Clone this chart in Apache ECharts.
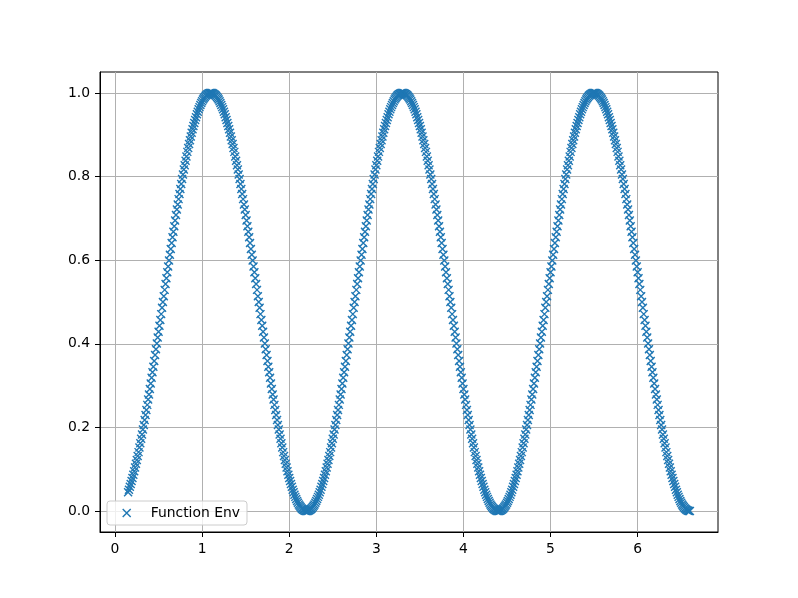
<!DOCTYPE html>
<html>
<head>
<meta charset="utf-8">
<script src="https://cdn.jsdelivr.net/npm/echarts@6/dist/echarts.min.js"></script>
<style>
html,body{margin:0;padding:0;background:#fff;}
#chart{width:798px;height:598px;}
</style>
</head>
<body>
<div id="chart"></div>
<script>
const seriesName = "Function Env";
const xTicks = [0, 1, 2, 3, 4, 5, 6];
const yTicks = [0.0, 0.2, 0.4, 0.6, 0.8, 1.0];
const xValues = [
0.15,0.16,0.17,0.18,0.19,
0.20,0.21,0.22,0.23,0.24,0.25,0.26,0.27,0.28,0.29,
0.30,0.31,0.32,0.33,0.34,0.35,0.36,0.37,0.38,0.39,
0.40,0.41,0.42,0.43,0.44,0.45,0.46,0.47,0.48,0.49,
0.50,0.51,0.52,0.53,0.54,0.55,0.56,0.57,0.58,0.59,
0.60,0.61,0.62,0.63,0.64,0.65,0.66,0.67,0.68,0.69,
0.70,0.71,0.72,0.73,0.74,0.75,0.76,0.77,0.78,0.79,
0.80,0.81,0.82,0.83,0.84,0.85,0.86,0.87,0.88,0.89,
0.90,0.91,0.92,0.93,0.94,0.95,0.96,0.97,0.98,0.99,
1.00,1.01,1.02,1.03,1.04,1.05,1.06,1.07,1.08,1.09,
1.10,1.11,1.12,1.13,1.14,1.15,1.16,1.17,1.18,1.19,
1.20,1.21,1.22,1.23,1.24,1.25,1.26,1.27,1.28,1.29,
1.30,1.31,1.32,1.33,1.34,1.35,1.36,1.37,1.38,1.39,
1.40,1.41,1.42,1.43,1.44,1.45,1.46,1.47,1.48,1.49,
1.50,1.51,1.52,1.53,1.54,1.55,1.56,1.57,1.58,1.59,
1.60,1.61,1.62,1.63,1.64,1.65,1.66,1.67,1.68,1.69,
1.70,1.71,1.72,1.73,1.74,1.75,1.76,1.77,1.78,1.79,
1.80,1.81,1.82,1.83,1.84,1.85,1.86,1.87,1.88,1.89,
1.90,1.91,1.92,1.93,1.94,1.95,1.96,1.97,1.98,1.99,
2.00,2.01,2.02,2.03,2.04,2.05,2.06,2.07,2.08,2.09,
2.10,2.11,2.12,2.13,2.14,2.15,2.16,2.17,2.18,2.19,
2.20,2.21,2.22,2.23,2.24,2.25,2.26,2.27,2.28,2.29,
2.30,2.31,2.32,2.33,2.34,2.35,2.36,2.37,2.38,2.39,
2.40,2.41,2.42,2.43,2.44,2.45,2.46,2.47,2.48,2.49,
2.50,2.51,2.52,2.53,2.54,2.55,2.56,2.57,2.58,2.59,
2.60,2.61,2.62,2.63,2.64,2.65,2.66,2.67,2.68,2.69,
2.70,2.71,2.72,2.73,2.74,2.75,2.76,2.77,2.78,2.79,
2.80,2.81,2.82,2.83,2.84,2.85,2.86,2.87,2.88,2.89,
2.90,2.91,2.92,2.93,2.94,2.95,2.96,2.97,2.98,2.99,
3.00,3.01,3.02,3.03,3.04,3.05,3.06,3.07,3.08,3.09,
3.10,3.11,3.12,3.13,3.14,3.15,3.16,3.17,3.18,3.19,
3.20,3.21,3.22,3.23,3.24,3.25,3.26,3.27,3.28,3.29,
3.30,3.31,3.32,3.33,3.34,3.35,3.36,3.37,3.38,3.39,
3.40,3.41,3.42,3.43,3.44,3.45,3.46,3.47,3.48,3.49,
3.50,3.51,3.52,3.53,3.54,3.55,3.56,3.57,3.58,3.59,
3.60,3.61,3.62,3.63,3.64,3.65,3.66,3.67,3.68,3.69,
3.70,3.71,3.72,3.73,3.74,3.75,3.76,3.77,3.78,3.79,
3.80,3.81,3.82,3.83,3.84,3.85,3.86,3.87,3.88,3.89,
3.90,3.91,3.92,3.93,3.94,3.95,3.96,3.97,3.98,3.99,
4.00,4.01,4.02,4.03,4.04,4.05,4.06,4.07,4.08,4.09,
4.10,4.11,4.12,4.13,4.14,4.15,4.16,4.17,4.18,4.19,
4.20,4.21,4.22,4.23,4.24,4.25,4.26,4.27,4.28,4.29,
4.30,4.31,4.32,4.33,4.34,4.35,4.36,4.37,4.38,4.39,
4.40,4.41,4.42,4.43,4.44,4.45,4.46,4.47,4.48,4.49,
4.50,4.51,4.52,4.53,4.54,4.55,4.56,4.57,4.58,4.59,
4.60,4.61,4.62,4.63,4.64,4.65,4.66,4.67,4.68,4.69,
4.70,4.71,4.72,4.73,4.74,4.75,4.76,4.77,4.78,4.79,
4.80,4.81,4.82,4.83,4.84,4.85,4.86,4.87,4.88,4.89,
4.90,4.91,4.92,4.93,4.94,4.95,4.96,4.97,4.98,4.99,
5.00,5.01,5.02,5.03,5.04,5.05,5.06,5.07,5.08,5.09,
5.10,5.11,5.12,5.13,5.14,5.15,5.16,5.17,5.18,5.19,
5.20,5.21,5.22,5.23,5.24,5.25,5.26,5.27,5.28,5.29,
5.30,5.31,5.32,5.33,5.34,5.35,5.36,5.37,5.38,5.39,
5.40,5.41,5.42,5.43,5.44,5.45,5.46,5.47,5.48,5.49,
5.50,5.51,5.52,5.53,5.54,5.55,5.56,5.57,5.58,5.59,
5.60,5.61,5.62,5.63,5.64,5.65,5.66,5.67,5.68,5.69,
5.70,5.71,5.72,5.73,5.74,5.75,5.76,5.77,5.78,5.79,
5.80,5.81,5.82,5.83,5.84,5.85,5.86,5.87,5.88,5.89,
5.90,5.91,5.92,5.93,5.94,5.95,5.96,5.97,5.98,5.99,
6.00,6.01,6.02,6.03,6.04,6.05,6.06,6.07,6.08,6.09,
6.10,6.11,6.12,6.13,6.14,6.15,6.16,6.17,6.18,6.19,
6.20,6.21,6.22,6.23,6.24,6.25,6.26,6.27,6.28,6.29,
6.30,6.31,6.32,6.33,6.34,6.35,6.36,6.37,6.38,6.39,
6.40,6.41,6.42,6.43,6.44,6.45,6.46,6.47,6.48,6.49,
6.50,6.51,6.52,6.53,6.54,6.55,6.56,6.57,6.58,6.59,
6.60
];
const yValues = [
0.045,0.051,0.058,0.065,0.072,0.079,0.087,0.095,0.104,0.113,0.122,0.132,0.141,0.152,0.162,0.173,0.183,0.195,0.206,0.218,
0.230,0.242,0.254,0.267,0.279,0.292,0.305,0.319,0.332,0.345,0.359,0.373,0.387,0.401,0.415,0.429,0.443,0.457,0.471,0.486,
0.500,0.514,0.529,0.543,0.557,0.571,0.585,0.599,0.613,0.627,0.641,0.655,0.668,0.681,0.695,0.708,0.721,0.733,0.746,0.758,
0.770,0.782,0.794,0.805,0.817,0.827,0.838,0.848,0.859,0.868,0.878,0.887,0.896,0.905,0.913,0.921,0.928,0.935,0.942,0.949,
0.955,0.961,0.966,0.971,0.976,0.980,0.984,0.987,0.990,0.993,0.995,0.997,0.998,0.999,1.000,1.000,

1.000,0.999,0.998,0.997,0.995,0.993,0.990,0.987,0.984,0.980,0.976,0.971,0.966,0.961,0.955,0.949,0.942,0.935,0.928,0.921,
0.913,0.905,0.896,0.887,0.878,0.868,0.859,0.848,0.838,0.827,0.817,0.805,0.794,0.782,0.770,0.758,0.746,0.733,0.721,0.708,
0.695,0.681,0.668,0.655,0.641,0.627,0.613,0.599,0.585,0.571,0.557,0.543,0.529,0.514,0.500,0.486,0.471,0.457,0.443,0.429,
0.415,0.401,0.387,0.373,0.359,0.345,0.332,0.319,0.305,0.292,0.279,0.267,0.254,0.242,0.230,0.218,0.206,0.195,0.183,0.173,
0.162,0.152,0.141,0.132,0.122,0.113,0.104,0.095,0.087,0.079,0.072,0.065,0.058,0.051,0.045,0.039,0.034,0.029,0.024,0.020,
0.016,0.013,0.010,0.007,0.005,0.003,0.002,0.001,0.000,0.000,

0.000,0.001,0.002,0.003,0.005,0.007,0.010,0.013,0.016,0.020,0.024,0.029,0.034,0.039,0.045,0.051,0.058,0.065,0.072,0.079,
0.087,0.095,0.104,0.113,0.122,0.132,0.141,0.152,0.162,0.173,0.183,0.195,0.206,0.218,0.230,0.242,0.254,0.267,0.279,0.292,
0.305,0.319,0.332,0.345,0.359,0.373,0.387,0.401,0.415,0.429,0.443,0.457,0.471,0.486,0.500,0.514,0.529,0.543,0.557,0.571,
0.585,0.599,0.613,0.627,0.641,0.655,0.668,0.681,0.695,0.708,0.721,0.733,0.746,0.758,0.770,0.782,0.794,0.805,0.817,0.827,
0.838,0.848,0.859,0.868,0.878,0.887,0.896,0.905,0.913,0.921,0.928,0.935,0.942,0.949,0.955,0.961,0.966,0.971,0.976,0.980,
0.984,0.987,0.990,0.993,0.995,0.997,0.998,0.999,1.000,1.000,

1.000,0.999,0.998,0.997,0.995,0.993,0.990,0.987,0.984,0.980,0.976,0.971,0.966,0.961,0.955,0.949,0.942,0.935,0.928,0.921,
0.913,0.905,0.896,0.887,0.878,0.868,0.859,0.848,0.838,0.827,0.817,0.805,0.794,0.782,0.770,0.758,0.746,0.733,0.721,0.708,
0.695,0.681,0.668,0.655,0.641,0.627,0.613,0.599,0.585,0.571,0.557,0.543,0.529,0.514,0.500,0.486,0.471,0.457,0.443,0.429,
0.415,0.401,0.387,0.373,0.359,0.345,0.332,0.319,0.305,0.292,0.279,0.267,0.254,0.242,0.230,0.218,0.206,0.195,0.183,0.173,
0.162,0.152,0.141,0.132,0.122,0.113,0.104,0.095,0.087,0.079,0.072,0.065,0.058,0.051,0.045,0.039,0.034,0.029,0.024,0.020,
0.016,0.013,0.010,0.007,0.005,0.003,0.002,0.001,0.000,0.000,

0.000,0.001,0.002,0.003,0.005,0.007,0.010,0.013,0.016,0.020,0.024,0.029,0.034,0.039,0.045,0.051,0.058,0.065,0.072,0.079,
0.087,0.095,0.104,0.113,0.122,0.132,0.141,0.152,0.162,0.173,0.183,0.195,0.206,0.218,0.230,0.242,0.254,0.267,0.279,0.292,
0.305,0.319,0.332,0.345,0.359,0.373,0.387,0.401,0.415,0.429,0.443,0.457,0.471,0.486,0.500,0.514,0.529,0.543,0.557,0.571,
0.585,0.599,0.613,0.627,0.641,0.655,0.668,0.681,0.695,0.708,0.721,0.733,0.746,0.758,0.770,0.782,0.794,0.805,0.817,0.827,
0.838,0.848,0.859,0.868,0.878,0.887,0.896,0.905,0.913,0.921,0.928,0.935,0.942,0.949,0.955,0.961,0.966,0.971,0.976,0.980,
0.984,0.987,0.990,0.993,0.995,0.997,0.998,0.999,1.000,1.000,

1.000,0.999,0.998,0.997,0.995,0.993,0.990,0.987,0.984,0.980,0.976,0.971,0.966,0.961,0.955,0.949,0.942,0.935,0.928,0.921,
0.913,0.905,0.896,0.887,0.878,0.868,0.859,0.848,0.838,0.827,0.817,0.805,0.794,0.782,0.770,0.758,0.746,0.733,0.721,0.708,
0.695,0.681,0.668,0.655,0.641,0.627,0.613,0.599,0.585,0.571,0.557,0.543,0.529,0.514,0.500,0.486,0.471,0.457,0.443,0.429,
0.415,0.401,0.387,0.373,0.359,0.345,0.332,0.319,0.305,0.292,0.279,0.267,0.254,0.242,0.230,0.218,0.206,0.195,0.183,0.173,
0.162,0.152,0.141,0.132,0.122,0.113,0.104,0.095,0.087,0.079,0.072,0.065,0.058,0.051,0.045,0.039,0.034,0.029,0.024,0.020,
0.016,0.013,0.010,0.007,0.005,0.003,0.002,0.001,0.000,0.000
];

const points = xValues.map((x, i) => [x, yValues[i]]);
const FONT = "'DejaVu Sans', sans-serif";
const xMark = 'path://M0,0L10,10M0,10L10,0';

const chart = echarts.init(document.getElementById('chart'), null, {renderer: 'canvas'});
chart.setOption({
  animation: false,
  backgroundColor: '#ffffff',
  grid: {
    left: 100, right: 80, top: 72, bottom: 66,
    show: true, borderColor: '#000000', borderWidth: 1,
    backgroundColor: 'transparent', containLabel: false
  },
  legend: {
    left: 107, top: 501,
    orient: 'horizontal',
    data: [seriesName],
    icon: xMark,
    itemWidth: 8, itemHeight: 8,
    padding: [5, 7, 5, 15],
    backgroundColor: 'rgba(255,255,255,0.8)',
    borderColor: '#cccccc', borderWidth: 1, borderRadius: 3,
    itemStyle: {color: '#1f77b4', borderColor: '#1f77b4', borderWidth: 1.4},
    textStyle: {fontFamily: FONT, fontSize: 13.9, color: '#000', padding: [0, 0, 0, 15]}
  },
  xAxis: {
    type: 'value',
    min: -0.1725, max: 6.9225,
    axisLine: {show: true, onZero: false, lineStyle: {color: '#000', width: 1}},
    axisTick: {show: true, length: 5, lineStyle: {color: '#000', width: 1}, customValues: xTicks},
    axisLabel: {customValues: xTicks, margin: 10, fontFamily: FONT, fontSize: 13.9, color: '#000',
      formatter: v => String(v)},
    splitLine: {show: true, lineStyle: {color: '#b0b0b0', width: 1}}
  },
  yAxis: {
    type: 'value',
    min: -0.05, max: 1.05,
    axisLine: {show: true, onZero: false, lineStyle: {color: '#000', width: 1}},
    axisTick: {show: true, length: 5, lineStyle: {color: '#000', width: 1}, customValues: yTicks},
    axisLabel: {customValues: yTicks, margin: 10, fontFamily: FONT, fontSize: 13.9, color: '#000',
      formatter: v => Number(v).toFixed(1)},
    splitLine: {show: true, lineStyle: {color: '#b0b0b0', width: 1}}
  },
  series: [{
    name: seriesName,
    type: 'scatter',
    data: points,
    symbol: xMark,
    symbolSize: 8,
    itemStyle: {color: '#1f77b4', borderColor: '#1f77b4', borderWidth: 1.4, opacity: 1},
    emphasis: {disabled: true},
    silent: true,
    z: 3
  }]
});
</script>
</body>
</html>
